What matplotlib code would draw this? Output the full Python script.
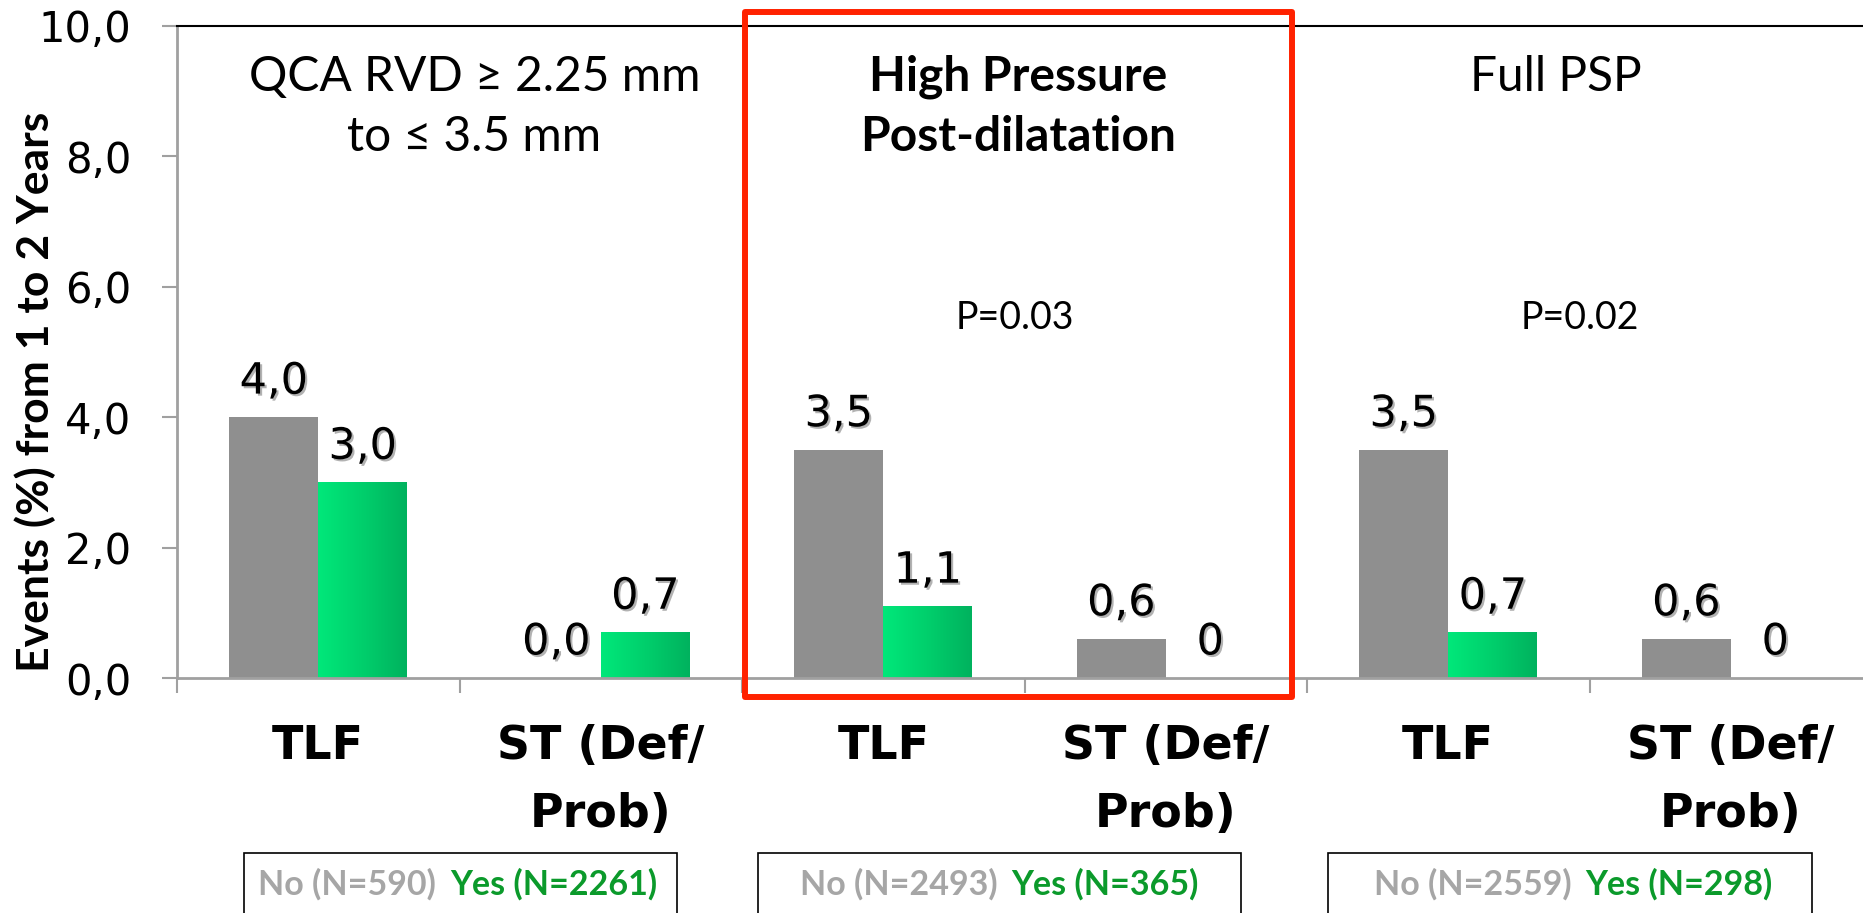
import matplotlib
matplotlib.use("Agg")
import matplotlib.pyplot as plt
import matplotlib.patheffects as pe
from matplotlib.patches import Rectangle
from matplotlib.colors import LinearSegmentedColormap
import numpy as np

# data
categories = ["TLF", "ST (Def/\nProb)"] * 3
no_values = [4.0, 0.0, 3.5, 0.6, 3.5, 0.6]
yes_values = [3.0, 0.7, 1.1, 0.0, 0.7, 0.0]
no_labels = ["4,0", "0,0", "3,5", "0,6", "3,5", "0,6"]
yes_labels = ["3,0", "0,7", "1,1", "0", "0,7", "0"]
group_titles = [["QCA RVD \u2265 2.25 mm", "to \u2264 3.5 mm"],
                ["High Pressure", "Post-dilatation"],
                ["Full PSP"]]
title_bold = [False, True, False]
p_values = [None, "P=0.03", "P=0.02"]
n_no = ["No (N=590)", "No (N=2493)", "No (N=2559)"]
n_yes = ["Yes (N=2261)", "Yes (N=365)", "Yes (N=298)"]
yticks = [0, 2, 4, 6, 8, 10]

GRAY = "#8f8f8f"
AXGRAY = "#a0a0a0"
LEG_GRAY = "#a6a6a6"
LEG_GREEN = "#0b9a2b"
green_cmap = LinearSegmentedColormap.from_list("grn", ["#00e87a", "#00cf6c", "#00b25e"])
SANS2 = ["Lato", "DejaVu Sans"]

fig = plt.figure(figsize=(18.63, 9.13), dpi=100)
ax = fig.add_axes([177 / 1863, 235 / 913, 1695 / 1863, 652 / 913])

x = np.arange(len(categories))
w = 0.315
bars_no = ax.bar(x - w / 2, no_values, w, color=GRAY, zorder=2)
bars_yes = ax.bar(x + w / 2, yes_values, w, color="#00cf6c", zorder=2)

# horizontal gradient on the green bars
grad = np.linspace(0, 1, 256).reshape(1, -1)
for b in bars_yes:
    if b.get_height() <= 0:
        continue
    im = ax.imshow(grad, cmap=green_cmap, aspect="auto", zorder=2.5,
                   extent=[b.get_x(), b.get_x() + b.get_width(), 0, b.get_height()])
    im.set_clip_path(b)

# value labels with a soft shadow
shadow = [pe.withSimplePatchShadow(offset=(1.5, -1.5), shadow_rgbFace="black", alpha=0.3)]
for b, lab in zip(list(bars_no) + list(bars_yes), no_labels + yes_labels):
    ax.annotate(lab, (b.get_x() + b.get_width() / 2, b.get_height()),
                xytext=(0, 17), textcoords="offset points", ha="center",
                va="baseline", fontsize=31, path_effects=shadow, zorder=4)

ax.set_xlim(-0.5, 5.5)
ax.set_ylim(0, 10)
ax.set_yticks(yticks)
ax.set_yticklabels([f"{t:.1f}".replace(".", ",") for t in yticks])
ax.set_xticks(x)
ax.set_xticklabels(categories, fontweight="bold", fontsize=33, linespacing=1.66)
ax.set_xticks(np.arange(-0.5, 6, 1), minor=True)
ax.tick_params(axis="x", which="major", length=0, pad=33)
ax.tick_params(axis="x", which="minor", length=10.8, width=1.5, color=AXGRAY)
ax.tick_params(axis="y", length=10.8, width=1.5, color=AXGRAY, labelsize=30, pad=22)
for s in ["left", "bottom"]:
    ax.spines[s].set_color(AXGRAY)
    ax.spines[s].set_linewidth(2)
ax.spines["top"].set_color("black")
ax.spines["top"].set_linewidth(1.5)
ax.spines["right"].set_visible(False)

ax.set_ylabel("Events (%) from 1 to 2 Years", fontsize=32, fontweight="bold",
              family=SANS2, va="center")
ax.yaxis.set_label_coords(-0.0838, 0.4387)

# group titles
title_x = [0.553, 2.477, 4.381]
title_y = [9.218, 8.298]
for tx, lines, bold in zip(title_x, group_titles, title_bold):
    for ty, line in zip(title_y, lines):
        ax.text(tx, ty, line, ha="center", va="center", fontsize=34.5,
                family=SANS2, fontweight="bold" if bold else "normal")

# p values
p_x = [0.0, 2.466, 4.466]
for px, p in zip(p_x, p_values):
    if p:
        ax.text(px, 5.52, p, ha="center", va="center", fontsize=27, family=SANS2)

# sample size boxes under each group
box_x = [(-0.264, 1.27), (1.557, 3.266), (3.574, 5.288)]
split_x = [0.442, 2.43, 4.46]
for (x0, x1), sx, tn, ty in zip(box_x, split_x, n_no, n_yes):
    ax.add_patch(Rectangle((x0, -4.2), x1 - x0, 1.52, fill=False, edgecolor="black",
                           lw=1.2, clip_on=False))
    ax.annotate(tn, (sx, -3.16), xytext=(-5, 0), textcoords="offset points",
                ha="right", va="center", fontsize=24.5, fontweight="bold",
                color=LEG_GRAY, family=SANS2, annotation_clip=False)
    ax.annotate(ty, (sx, -3.16), xytext=(5, 0), textcoords="offset points",
                ha="left", va="center", fontsize=24.5, fontweight="bold",
                color=LEG_GREEN, family=SANS2, annotation_clip=False)

# red highlight around the post-dilatation group
ax.add_patch(Rectangle((1.511, -0.292), 3.447 - 1.511, 10.215 + 0.292, fill=False,
                       edgecolor="#ff2200", lw=4.3, joinstyle="round",
                       clip_on=False, zorder=5))

fig.savefig("out.png", dpi=100)
